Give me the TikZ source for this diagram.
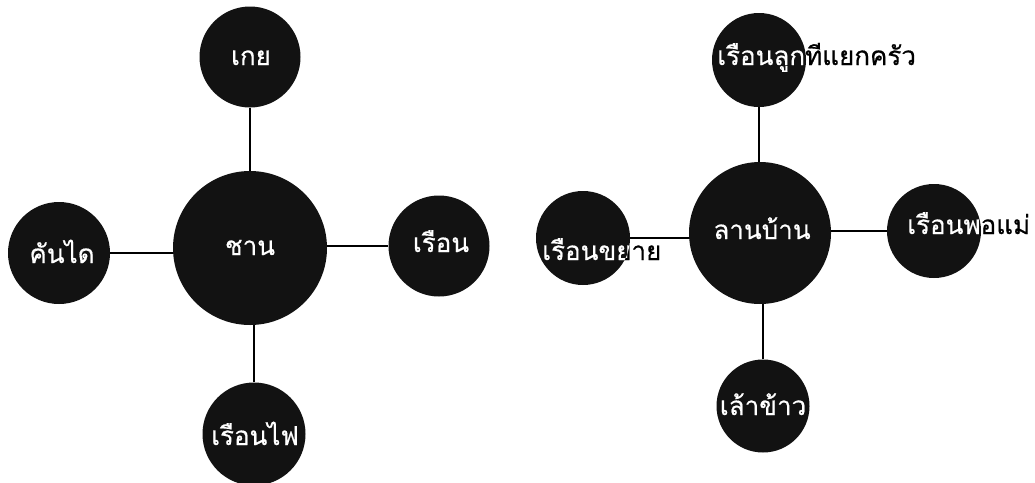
\documentclass[tikz,border=0pt]{standalone}
\usepackage{fontspec}
\newfontfamily\thaifont[Script=Thai,FakeBold=0.6]{Loma}
\usetikzlibrary{backgrounds}
\definecolor{bubblefill}{HTML}{121212}
\tikzset{
  bubble/.style={circle, fill=bubblefill, inner sep=0pt, draw=none},
  lbl/.style={font=\thaifont\fontsize{26}{30}\selectfont, inner sep=0pt},
  link/.style={line width=2.2pt, draw=black}
}
% #1 name, #2 x, #3 y, #4 diameter, #5 anchor, #6 text x, #7 baseline y, #8 text
\newcommand\mybubble[8]{%
  \node[bubble, minimum size=#4pt] (#1) at (#2pt,-#3pt) {};
  \node[lbl, anchor=#5, text=black] (#1-txt) at (#6pt,-#7pt) {#8};
  \begin{scope}
    \clip (#2pt,-#3pt) circle ({#4pt/2});
    \node[lbl, anchor=#5, text=white] at (#6pt,-#7pt) {#8};
  \end{scope}%
}
\begin{document}
\begin{tikzpicture}
\useasboundingbox (0pt,0pt) rectangle (1035pt,-482pt);
% left diagram
\mybubble{chan}{250}{248}{154}{base}{250}{255}{ชาน}
\mybubble{gei}{250}{57}{101}{base}{251}{65}{เกย}
\mybubble{kandai}{59}{253}{102}{base}{62}{263}{คันได}
\mybubble{reuan}{439}{246}{101}{base}{441}{252}{เรือน}
\mybubble{fai}{254}{434}{103}{base}{255}{445}{เรือนไฟ}
% right diagram
\mybubble{lan}{760}{233}{142}{base}{762}{239}{ลานบ้าน}
\mybubble{luk}{759}{60}{94}{base west}{717}{65}{เรือนลูกทีแยกครัว}
\mybubble{khayai}{583}{238}{94}{base west}{542}{260}{เรือนขยาย}
\mybubble{phomae}{934}{231}{94}{base west}{907}{234}{เรือนพอแม่}
\mybubble{lao}{763}{406}{93}{base}{763}{415}{เล้าข้าว}
\begin{scope}[on background layer]
  \fill[white] (0pt,0pt) rectangle (1035pt,-482pt);
  \draw[link] (gei) -- (gei |- chan);
  \draw[link] (fai) -- (fai |- chan);
  \draw[link] (kandai) -- (kandai -| chan);
  \draw[link] (reuan) -- (reuan -| chan);
  \draw[link] (luk) -- (luk |- lan);
  \draw[link] (lao) -- (lao |- lan);
  \draw[link] (khayai) -- (khayai -| lan);
  \draw[link] (phomae) -- (phomae -| lan);
\end{scope}
\end{tikzpicture}
\end{document}
